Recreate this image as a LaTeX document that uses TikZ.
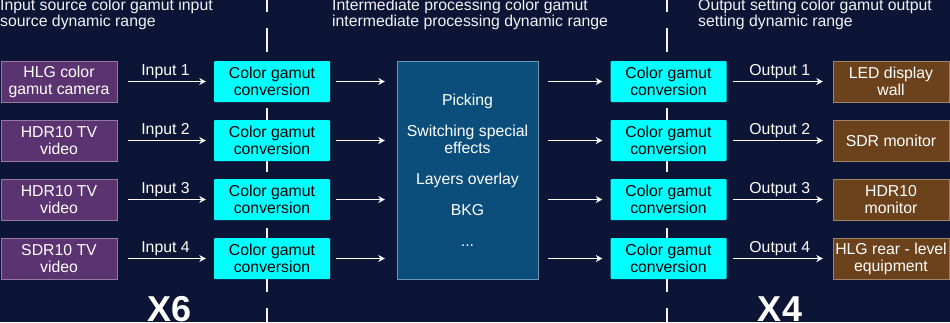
\documentclass[tikz,border=0pt]{standalone}
\usepackage{fontspec}
\setmainfont{Liberation Sans}
\usepackage{xcolor}
\definecolor{navybg}{HTML}{0C1535}
\definecolor{srcpurple}{HTML}{5A3370}
\definecolor{convcyan}{HTML}{00FFFF}
\definecolor{procblue}{HTML}{0B4E7B}
\definecolor{outbrown}{HTML}{6B421C}
\usepackage{tikz}
\usetikzlibrary{arrows.meta,positioning,calc}

\begin{document}
\begin{tikzpicture}[x=1pt,y=-1pt,
  source/.style={draw=srcpurple!65!white,fill=srcpurple,text=white,
                 minimum width=116pt,minimum height=41pt,inner sep=1pt,
                 font=\fontsize{15.8}{17}\selectfont,align=center},
  convert/.style={fill=convcyan,text=black,rounded corners=1pt,
                  minimum width=116pt,minimum height=41pt,inner sep=1pt,
                  font=\fontsize{15.8}{17}\selectfont,align=center},
  process/.style={draw=procblue!60!white,fill=procblue,text=white,
                  minimum width=141pt,minimum height=218pt,inner sep=1pt,
                  font=\fontsize{15.8}{17}\selectfont,align=center},
  target/.style={draw=outbrown!65!white,fill=outbrown,text=white,
                 minimum width=116pt,minimum height=41pt,inner sep=1pt,
                 font=\fontsize{15.8}{17}\selectfont,align=center},
  heading/.style={text=white!90!gray,inner sep=0pt,anchor=base west,
                  font=\fontsize{15.8}{16}\selectfont,align=left},
  tag/.style={above,text=white,inner sep=2pt,font=\fontsize{15.8}{17}\selectfont},
  tally/.style={text=white,anchor=base,font=\bfseries\fontsize{36}{36}\selectfont},
  flow/.style={-{Stealth[length=6.5pt,width=7pt]},white,line width=1.8pt},
  divider/.style={white!92!gray,line width=2.8pt,dash pattern=on 24pt off 16pt}
]
\useasboundingbox (0,0) rectangle (950,322);
\fill[navybg] (0,0) rectangle (950,322);

% dashed section borders
\coordinate (cutA top) at (267,-12);
\coordinate (cutA bot) at (267,345);
\coordinate (cutB top) at (667,-12);
\coordinate (cutB bot) at (667,345);
\draw[divider] (cutA top) -- (cutA bot);
\draw[divider] (cutB top) -- (cutB bot);

% headings (base = last line)
\node[heading] (headIn) at (0,26) {Input source color gamut input\\source dynamic range};
\node[heading] (headMid) at (332,26) {Intermediate processing color gamut\\intermediate processing dynamic range};
\node[heading] (headOut) at (698,26) {Output setting color gamut output\\setting dynamic range};

% sources
\node[source] (src1) at (59,81.5)  {HLG color\\gamut camera};
\node[source] (src2) at (59,140.5) {HDR10 TV\\video};
\node[source] (src3) at (59,199.5) {HDR10 TV\\video};
\node[source] (src4) at (59,258.5) {SDR10 TV\\video};

% input conversions
\node[convert] (cvi1) at (272,81.5)  {Color gamut\\conversion};
\node[convert] (cvi2) at (272,140.5) {Color gamut\\conversion};
\node[convert] (cvi3) at (272,199.5) {Color gamut\\conversion};
\node[convert] (cvi4) at (272,258.5) {Color gamut\\conversion};

% processing
\node[process] (proc) at (467.5,170) {Picking\\[14pt]Switching special\\effects\\[14pt]Layers overlay\\[14pt]BKG\\[14pt]...};

% output conversions
\node[convert] (cvo1) at (668.5,81.5)  {Color gamut\\conversion};
\node[convert] (cvo2) at (668.5,140.5) {Color gamut\\conversion};
\node[convert] (cvo3) at (668.5,199.5) {Color gamut\\conversion};
\node[convert] (cvo4) at (668.5,258.5) {Color gamut\\conversion};

% targets
\node[target] (dst1) at (891,81.5)  {LED display\\wall};
\node[target] (dst2) at (891,140.5) {SDR monitor};
\node[target] (dst3) at (891,199.5) {HDR10\\monitor};
\node[target] (dst4) at (891,258.5) {HLG rear - level\\equipment};

\draw[flow,shorten <=11pt,shorten >=8pt] (src1) -- node[tag]{Input 1} (cvi1);
\draw[flow,shorten <=11pt,shorten >=8pt] (src2) -- node[tag]{Input 2} (cvi2);
\draw[flow,shorten <=11pt,shorten >=8pt] (src3) -- node[tag]{Input 3} (cvi3);
\draw[flow,shorten <=11pt,shorten >=8pt] (src4) -- node[tag]{Input 4} (cvi4);

\draw[flow,shorten <=6pt,shorten >=12pt] (cvi1.east) -- (cvi1.east -| proc.west);
\draw[flow,shorten <=6pt,shorten >=12pt] (cvi2.east) -- (cvi2.east -| proc.west);
\draw[flow,shorten <=6pt,shorten >=12pt] (cvi3.east) -- (cvi3.east -| proc.west);
\draw[flow,shorten <=6pt,shorten >=12pt] (cvi4.east) -- (cvi4.east -| proc.west);

\draw[flow,shorten <=10pt,shorten >=8pt] (proc.east |- cvo1.west) -- (cvo1.west);
\draw[flow,shorten <=10pt,shorten >=8pt] (proc.east |- cvo2.west) -- (cvo2.west);
\draw[flow,shorten <=10pt,shorten >=8pt] (proc.east |- cvo3.west) -- (cvo3.west);
\draw[flow,shorten <=10pt,shorten >=8pt] (proc.east |- cvo4.west) -- (cvo4.west);

\draw[flow,shorten <=6pt,shorten >=10pt] (cvo1) -- node[tag]{Output 1} (dst1);
\draw[flow,shorten <=6pt,shorten >=10pt] (cvo2) -- node[tag]{Output 2} (dst2);
\draw[flow,shorten <=6pt,shorten >=10pt] (cvo3) -- node[tag]{Output 3} (dst3);
\draw[flow,shorten <=6pt,shorten >=10pt] (cvo4) -- node[tag]{Output 4} (dst4);

% channel counts
\node[tally] (inCount) at (170,321) {X6};
\node[tally] (outCount) at (780,321) {X4};
\end{tikzpicture}
\end{document}
